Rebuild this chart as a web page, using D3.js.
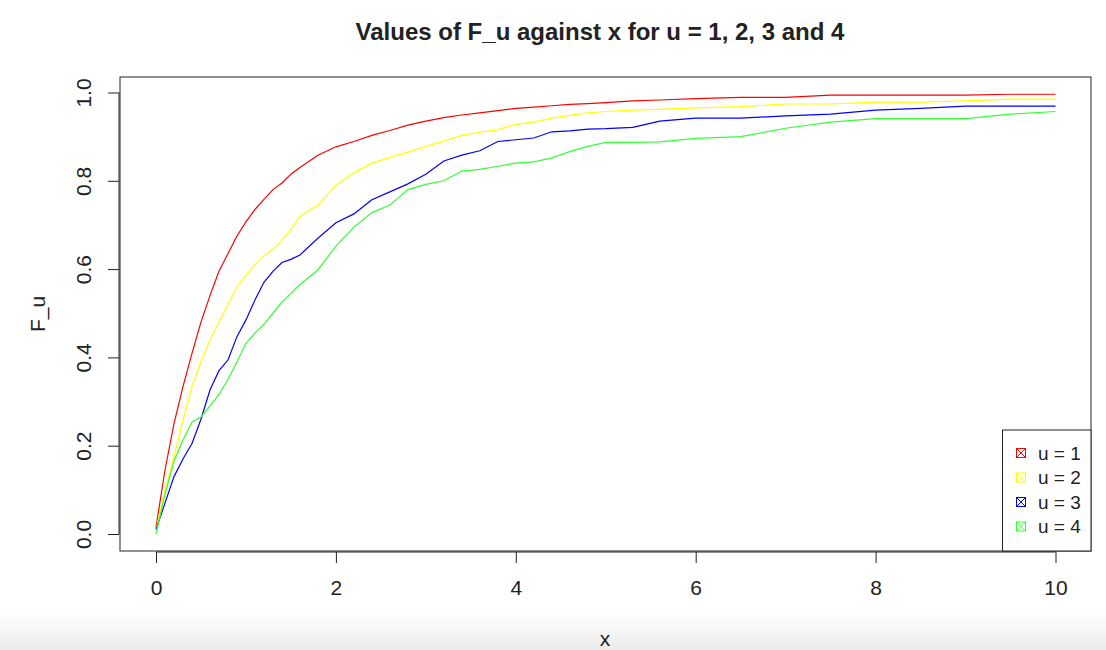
<!DOCTYPE html>
<meta charset="utf-8">
<script src="https://cdn.jsdelivr.net/npm/d3@7"></script>
<style>
body { margin: 0; background: #fff; }
text { font-family: "Liberation Sans", Arial, sans-serif; fill: #222; }
.line { fill: none; stroke-width: 1.2px; }
</style>
<body>
<script>

// grid of x values and F_u values
var xs = [0, 0.1, 0.2, 0.3, 0.4, 0.5, 0.6, 0.7, 0.8, 0.9, 1.0, 1.1, 1.2, 1.3, 1.4, 1.5, 1.6, 1.8,
          2.0, 2.2, 2.4, 2.6, 2.8, 3.0, 3.2, 3.4, 3.6, 3.8, 4.0, 4.2, 4.4, 4.6, 4.8, 5.0, 5.3, 5.6,
          6.0, 6.5, 7.0, 7.5, 8.0, 8.5, 9.0, 9.5, 10];

var u1 = [0.015, 0.145, 0.25, 0.334, 0.409, 0.48, 0.54, 0.595, 0.635, 0.675, 0.707, 0.735, 0.758, 0.78, 0.795, 0.815, 0.83, 0.858,
          0.877, 0.889, 0.903, 0.914, 0.926, 0.935, 0.943, 0.949, 0.954, 0.959, 0.964, 0.967, 0.970, 0.973, 0.975, 0.977, 0.981, 0.983,
          0.986, 0.989, 0.989, 0.994, 0.994, 0.994, 0.994, 0.996, 0.996];

var u2 = [0.01, 0.10, 0.175, 0.258, 0.334, 0.39, 0.44, 0.48, 0.52, 0.56, 0.585, 0.61, 0.63, 0.645, 0.665, 0.69, 0.719, 0.745,
          0.79, 0.818, 0.84, 0.853, 0.865, 0.878, 0.89, 0.903, 0.91, 0.916, 0.928, 0.933, 0.942, 0.948, 0.954, 0.957, 0.960, 0.962,
          0.965, 0.968, 0.974, 0.974, 0.978, 0.978, 0.981, 0.985, 0.985];

var u3 = [0.01, 0.07, 0.13, 0.17, 0.205, 0.26, 0.326, 0.37, 0.394, 0.447, 0.485, 0.53, 0.57, 0.595, 0.615, 0.622, 0.632, 0.67,
          0.705, 0.725, 0.757, 0.775, 0.793, 0.815, 0.845, 0.858, 0.868, 0.889, 0.893, 0.897, 0.911, 0.913, 0.917, 0.918, 0.921, 0.935,
          0.942, 0.942, 0.947, 0.951, 0.960, 0.964, 0.969, 0.969, 0.969];

var u4 = [0.0, 0.09, 0.165, 0.213, 0.254, 0.265, 0.29, 0.316, 0.35, 0.39, 0.432, 0.455, 0.475, 0.50, 0.525, 0.545, 0.565, 0.598,
          0.652, 0.695, 0.728, 0.745, 0.78, 0.792, 0.80, 0.822, 0.826, 0.833, 0.840, 0.843, 0.852, 0.866, 0.878, 0.887, 0.887, 0.888,
          0.896, 0.900, 0.919, 0.933, 0.941, 0.941, 0.941, 0.951, 0.957];

var names = ["u = 1", "u = 2", "u = 3", "u = 4"];
var colors = ["#ff0000", "#ffff00", "#0000ff", "#33ff33"];
var xTicks = [0, 2, 4, 6, 8, 10];
var yTicks = [0, 0.2, 0.4, 0.6, 0.8, 1.0];

var W = 1106, H = 650;
var box = {left: 120, right: 1091, top: 77, bottom: 551};

var x = d3.scaleLinear().domain([0, 10]).range([156, 1055.5]);
var y = d3.scaleLinear().domain([0, 1]).range([534, 92.5]);

var svg = d3.select("body").append("svg")
    .attr("width", W)
    .attr("height", H);

// faint grey band at the bottom of the screenshot
var grad = svg.append("defs").append("linearGradient")
    .attr("id", "fade").attr("x1", 0).attr("y1", 0).attr("x2", 0).attr("y2", 1);
grad.append("stop").attr("offset", "0%").attr("stop-color", "#fff");
grad.append("stop").attr("offset", "100%").attr("stop-color", "#ebebeb");
svg.append("rect")
    .attr("x", 0).attr("y", 612).attr("width", W).attr("height", H - 612)
    .attr("fill", "url(#fade)");

// the series lines
var series = [u1, u2, u3, u4];
var line = d3.line()
    .x(function(d, i) { return x(xs[i]); })
    .y(function(d) { return y(d); });

series.forEach(function(s, k) {
  svg.append("path")
      .datum(s)
      .attr("class", "line")
      .style("stroke", colors[k])
      .attr("d", line);
});

// plot frame
svg.append("rect")
    .attr("x", box.left).attr("y", box.top)
    .attr("width", box.right - box.left).attr("height", box.bottom - box.top)
    .attr("fill", "none").attr("stroke", "#222").attr("stroke-width", 1);

// x axis
var xAxis = svg.append("g")
    .attr("transform", "translate(0," + (box.bottom + 1) + ")")
    .call(d3.axisBottom(x).tickValues(xTicks).tickSize(11).tickPadding(17).tickFormat(d3.format("d")));
xAxis.select(".domain")
    .attr("d", "M" + x(0) + ",0H" + x(10));

// y axis
var yAxis = svg.append("g")
    .attr("transform", "translate(" + (box.left - 1) + ",0)")
    .call(d3.axisLeft(y).tickValues(yTicks).tickSize(11).tickFormat(d3.format(".1f")));
yAxis.select(".domain")
    .attr("d", "M0," + y(0) + "V" + y(1));
yAxis.selectAll(".tick text")
    .attr("transform", "rotate(-90)")
    .attr("x", 0).attr("y", -35.5)
    .attr("dy", "0.35em")
    .style("text-anchor", "middle");

svg.selectAll(".tick text").style("font-size", "21px").style("font-family", "Liberation Sans, Arial, sans-serif").attr("fill", "#222");
svg.selectAll(".tick line, .domain").attr("stroke", "#222");

// titles
svg.append("text")
    .attr("x", 600).attr("y", 40)
    .attr("text-anchor", "middle")
    .style("font-weight", "bold")
    .style("font-size", "24px")
    .text("Values of F_u against x for u = 1, 2, 3 and 4");

svg.append("text")
    .attr("x", 605).attr("y", 646)
    .attr("text-anchor", "middle")
    .style("font-size", "21px")
    .text("x");

svg.append("text")
    .attr("transform", "translate(45," + ((box.top + box.bottom) / 2) + ") rotate(-90)")
    .attr("text-anchor", "middle")
    .style("font-size", "21px")
    .text("F_u");

// legend
var lg = svg.append("g");
lg.append("rect")
    .attr("x", 1002.5).attr("y", 430)
    .attr("width", box.right - 1002.5).attr("height", box.bottom - 430)
    .attr("fill", "#fff").attr("stroke", "#222");

names.forEach(function(n, k) {
  var cy = 453 + k * 24.5;
  var g = lg.append("g").attr("transform", "translate(1021," + cy + ")");
  g.append("rect").attr("x", -4.5).attr("y", -4.5).attr("width", 9).attr("height", 9)
      .attr("fill", "none").attr("stroke", colors[k]).attr("stroke-width", 1);
  g.append("path").attr("d", "M-4.5,-4.5L4.5,4.5M-4.5,4.5L4.5,-4.5")
      .attr("stroke", colors[k]).attr("stroke-width", 1);
  lg.append("text")
      .attr("x", 1038).attr("y", cy)
      .attr("dy", "0.35em")
      .style("font-size", "19px")
      .text(n);
});

</script>
</body>
